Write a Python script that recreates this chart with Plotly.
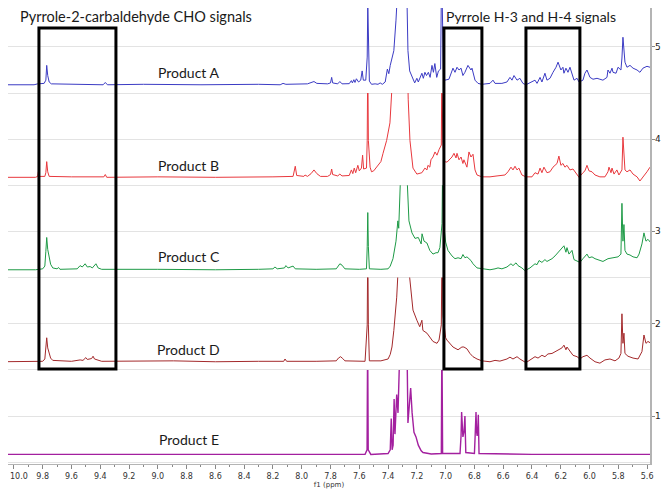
import plotly.graph_objects as go

# ---------------- data ----------------
products = ["Product A", "Product B", "Product C", "Product D", "Product E"]
offsets = [4.59, 3.587, 2.585, 1.588, 0.584]          # stacking offset of each spectrum
colors = ["#3b3bc4", "#e8383d", "#1e9a46", "#a3292b", "#a3209f"]

A_ppm = [10.10, 9.86, 9.835, 9.79, 9.778, 9.772, 9.765, 9.755, 9.74, 9.60, 9.38, 9.365, 9.35, 9.10, 8.70,
         8.30, 8.15, 8.13, 8.11, 7.96, 7.935, 7.915, 7.895, 7.82, 7.80, 7.792, 7.785, 7.75, 7.735, 7.72,
         7.67, 7.655, 7.648, 7.638, 7.63, 7.62, 7.605, 7.59, 7.58, 7.572, 7.555, 7.545, 7.541, 7.537, 7.53,
         7.515, 7.49, 7.47, 7.455, 7.44, 7.42, 7.405, 7.395, 7.385, 7.372, 7.36, 7.345, 7.335, 7.325, 7.30,
         7.28, 7.269, 7.262, 7.25, 7.234, 7.215, 7.20, 7.19, 7.165, 7.155, 7.144, 7.133, 7.12, 7.108, 7.095,
         7.085, 7.075, 7.062, 7.05, 7.035, 7.028, 7.022, 7.015, 7.005,
         6.977, 6.949, 6.935, 6.921, 6.907, 6.893, 6.880, 6.866, 6.845, 6.824, 6.817, 6.796, 6.775, 6.748,
         6.692, 6.671, 6.657, 6.609, 6.574, 6.553, 6.539, 6.525, 6.504, 6.484, 6.463, 6.442, 6.400, 6.379,
         6.365, 6.344, 6.331, 6.310, 6.296, 6.275, 6.254, 6.233, 6.219, 6.199, 6.185, 6.178, 6.164, 6.150,
         6.136, 6.122, 6.108, 6.087, 6.073, 6.046, 6.032, 6.018, 6.011, 5.997, 5.976, 5.948, 5.928, 5.907,
         5.879, 5.872, 5.858, 5.844, 5.837, 5.816, 5.802, 5.782, 5.775, 5.768, 5.754, 5.740, 5.719, 5.698,
         5.670, 5.650, 5.629, 5.601, 5.580, 5.559, 5.538]
A_int = [0.0, 0.0, 0.01, 0.015, 0.05, 0.21, 0.10, 0.03, 0.01, 0.005, 0.0, 0.025, 0.0, 0.005, 0.0,
         0.005, 0.0, 0.015, 0.005, 0.01, 0.02, 0.035, 0.015, 0.01, 0.02, 0.08, 0.02, 0.01, 0.035, 0.01,
         0.012, 0.045, 0.02, 0.055, 0.025, 0.065, 0.03, 0.05, 0.15, 0.05, 0.05, 0.3, 0.87, 0.3, 0.04,
         0.005, 0.01, 0.005, 0.02, 0.005, 0.03, 0.17, 0.12, 0.21, 0.28, 0.37, 0.70, 1.0, 1.6, 2.0,
         1.6, 0.95, 0.37, 0.15, 0.08, 0.02, 0.07, 0.03, 0.125, 0.07, 0.135, 0.10, 0.135, 0.08, 0.21,
         0.135, 0.23, 0.08, 0.15, 0.17, 1.3, 0.4, 0.09, 0.05,
         0.06, 0.18, 0.135, 0.19, 0.16, 0.18, 0.10, 0.135, 0.21, 0.16, 0.18, 0.05, 0.015, 0.005,
         0.015, 0.05, 0.015, 0.015, 0.03, 0.08, 0.05, 0.10, 0.05, 0.07, 0.015, 0.0, 0.03, 0.05,
         0.015, 0.08, 0.03, 0.125, 0.05, 0.07, 0.135, 0.19, 0.245, 0.16, 0.19, 0.125, 0.18, 0.135,
         0.19, 0.125, 0.05, 0.07, 0.03, 0.05, 0.125, 0.16, 0.135, 0.08, 0.06, 0.07, 0.06, 0.05,
         0.08, 0.16, 0.125, 0.18, 0.135, 0.125, 0.19, 0.16, 0.29, 0.515, 0.245, 0.19, 0.21, 0.18,
         0.16, 0.135, 0.18, 0.20, 0.19, 0.17, 0.145]

B_ppm = [10.10, 9.85, 9.835, 9.83, 9.825, 9.785, 9.778, 9.772, 9.765, 9.755, 9.60, 9.42, 9.375, 9.365,
         9.355, 9.00, 8.60, 8.20, 8.06, 8.045, 8.035, 7.985, 7.977, 7.96, 7.935, 7.915, 7.895, 7.87, 7.82,
         7.80, 7.792, 7.785, 7.75, 7.735, 7.72, 7.67, 7.655, 7.645, 7.635, 7.625, 7.61, 7.60, 7.585, 7.577,
         7.57, 7.55, 7.545, 7.541, 7.537, 7.525, 7.515, 7.50, 7.47, 7.45, 7.435, 7.41, 7.387, 7.373, 7.355,
         7.33, 7.30, 7.28, 7.265, 7.26, 7.248, 7.234, 7.227, 7.20, 7.165, 7.144, 7.13, 7.123, 7.11, 7.102,
         7.088, 7.074, 7.06, 7.046, 7.03, 7.026, 7.02, 7.01, 6.99,
         6.956, 6.942, 6.928, 6.921, 6.907, 6.893, 6.880, 6.873, 6.852, 6.838, 6.824, 6.810, 6.796, 6.782,
         6.748, 6.692, 6.643, 6.588, 6.567, 6.546, 6.532, 6.518, 6.504, 6.491, 6.470, 6.442, 6.400, 6.379,
         6.358, 6.344, 6.331, 6.317, 6.296, 6.275, 6.254, 6.226, 6.213, 6.199, 6.185, 6.171, 6.157, 6.136,
         6.115, 6.094, 6.073, 6.046, 6.032, 6.018, 6.004, 5.983, 5.962, 5.928, 5.893, 5.872, 5.865, 5.851,
         5.844, 5.830, 5.810, 5.796, 5.775, 5.768, 5.754, 5.740, 5.719, 5.698, 5.670, 5.650, 5.629, 5.601,
         5.580, 5.559, 5.538]
B_int = [0.0, 0.0, 0.01, 0.06, 0.01, 0.01, 0.05, 0.17, 0.06, 0.01, 0.005, 0.01, 0.005, 0.03,
         0.0, 0.005, 0.0, 0.005, 0.01, 0.12, 0.02, 0.01, 0.025, 0.01, 0.04, 0.08, 0.04, 0.01, 0.01,
         0.03, 0.09, 0.03, 0.015, 0.035, 0.015, 0.02, 0.08, 0.04, 0.10, 0.05, 0.13, 0.07, 0.10, 0.24,
         0.09, 0.10, 0.4, 1.3, 0.4, 0.11, 0.06, 0.07, 0.13, 0.17, 0.26, 0.40, 0.59, 0.92, 1.5,
         2.5, 3.0, 2.5, 1.2, 0.84, 0.40, 0.19, 0.10, 0.035, 0.05, 0.10, 0.08, 0.13, 0.11, 0.19,
         0.22, 0.275, 0.24, 0.30, 0.35, 1.3, 0.4, 0.17, 0.165,
         0.22, 0.26, 0.21, 0.26, 0.19, 0.22, 0.15, 0.19, 0.11, 0.275, 0.22, 0.25, 0.08, 0.025,
         0.005, 0.005, 0.015, 0.025, 0.06, 0.11, 0.08, 0.12, 0.08, 0.10, 0.025, 0.005, 0.005, 0.05,
         0.035, 0.10, 0.05, 0.11, 0.05, 0.06, 0.11, 0.15, 0.23, 0.13, 0.15, 0.11, 0.13, 0.08,
         0.09, 0.05, 0.0, 0.05, 0.07, 0.13, 0.07, 0.06, 0.025, 0.005, 0.005, 0.06, 0.11, 0.05,
         0.10, 0.035, 0.08, 0.025, 0.08, 0.435, 0.08, 0.06, 0.08, 0.035, 0.005, -0.04, 0.0, 0.06,
         0.11, 0.09, 0.08]

C_ppm = [10.10, 9.85, 9.80, 9.785, 9.778, 9.772, 9.765, 9.755, 9.745, 9.73, 9.70, 9.69, 9.68, 9.56, 9.54,
         9.525, 9.505, 9.49, 9.47, 9.455, 9.43, 9.415, 9.39, 9.00, 8.60, 8.30, 8.20, 8.186, 8.17, 8.12,
         8.11, 8.095, 8.06, 8.045, 7.90, 7.76, 7.745, 7.735, 7.72, 7.70, 7.60, 7.55, 7.545, 7.541, 7.537,
         7.53, 7.45, 7.40, 7.385, 7.366, 7.345, 7.332, 7.326, 7.318, 7.30, 7.28, 7.268, 7.255, 7.234,
         7.213, 7.19, 7.17, 7.164, 7.15, 7.13, 7.11, 7.088, 7.067, 7.053, 7.04, 7.025, 7.02, 7.014, 7.0,
         6.984, 6.956, 6.935, 6.914, 6.893, 6.880, 6.866, 6.852, 6.824, 6.810, 6.782, 6.748, 6.692, 6.657,
         6.636, 6.609, 6.574, 6.546, 6.532, 6.511, 6.497, 6.470, 6.449, 6.414, 6.379, 6.365, 6.351, 6.331,
         6.310, 6.296, 6.261, 6.240, 6.219, 6.192, 6.178, 6.164, 6.157, 6.143, 6.122, 6.108, 6.087, 6.067,
         6.046, 6.018, 6.004, 5.983, 5.962, 5.941, 5.907, 5.872, 5.837, 5.802, 5.782, 5.775, 5.768, 5.761,
         5.754, 5.740, 5.719, 5.698, 5.670, 5.656, 5.636, 5.622, 5.608, 5.594, 5.573, 5.559, 5.538]
C_int = [0.0, 0.0, 0.01, 0.04, 0.20, 0.35, 0.22, 0.13, 0.06, 0.02, 0.01, 0.025, 0.005, 0.01, 0.045,
         0.03, 0.065, 0.03, 0.035, 0.02, 0.065, 0.02, 0.005, 0.005, 0.0, 0.005, 0.01, 0.03, 0.01, 0.02,
         0.045, 0.02, 0.04, 0.01, 0.005, 0.01, 0.05, 0.065, 0.05, 0.01, 0.005, 0.01, 0.25, 0.62, 0.25,
         0.01, 0.005, 0.01, 0.04, 0.12, 0.31, 0.53, 0.45, 0.95, 2.5, 2.5, 1.0, 0.53, 0.40,
         0.34, 0.35, 0.28, 0.39, 0.31, 0.29, 0.21, 0.17, 0.185, 0.185, 0.24, 0.5, 1.3, 0.5, 0.3,
         0.21, 0.15, 0.12, 0.13, 0.12, 0.165, 0.13, 0.14, 0.10, 0.065, 0.02, 0.01, 0.0, 0.01,
         0.02, 0.01, 0.03, 0.065, 0.045, 0.075, 0.045, 0.02, -0.01, 0.02, 0.065, 0.055, 0.10, 0.08,
         0.11, 0.09, 0.12, 0.15, 0.185, 0.23, 0.26, 0.19, 0.24, 0.17, 0.21, 0.11, 0.09, 0.08,
         0.12, 0.17, 0.13, 0.14, 0.12, 0.11, 0.09, 0.12, 0.13, 0.14, 0.17, 0.72, 0.31, 0.49,
         0.21, 0.17, 0.16, 0.14, 0.13, 0.17, 0.28, 0.40, 0.31, 0.33, 0.29, 0.22, 0.18]

D_ppm = [10.10, 9.85, 9.80, 9.785, 9.778, 9.772, 9.765, 9.755, 9.745, 9.73, 9.69, 9.60, 9.54, 9.52, 9.50,
         9.49, 9.46, 9.45, 9.44, 9.42, 9.39, 8.89, 8.60, 8.30, 8.125, 8.116, 8.105, 7.90, 7.76, 7.745,
         7.73, 7.715, 7.70, 7.56, 7.545, 7.541, 7.537, 7.53, 7.45, 7.40, 7.385, 7.373, 7.36, 7.34, 7.33,
         7.31, 7.28, 7.262, 7.234, 7.227, 7.20, 7.18, 7.165, 7.158, 7.13, 7.11, 7.088, 7.06, 7.046, 7.03,
         7.025, 7.018, 7.00, 6.991, 6.970, 6.949, 6.914, 6.887, 6.873, 6.852, 6.831, 6.810, 6.782, 6.748,
         6.692, 6.657, 6.623, 6.574, 6.553, 6.532, 6.504, 6.484, 6.442, 6.400, 6.379, 6.358, 6.331, 6.310,
         6.289, 6.261, 6.240, 6.219, 6.192, 6.178, 6.164, 6.157, 6.136, 6.115, 6.087, 6.067, 6.046, 6.018,
         5.997, 5.962, 5.928, 5.893, 5.858, 5.823, 5.796, 5.782, 5.775, 5.768, 5.761, 5.754, 5.733, 5.698,
         5.663, 5.636, 5.622, 5.608, 5.594, 5.573, 5.559, 5.538]
D_int = [0.0, 0.0, 0.005, 0.03, 0.15, 0.26, 0.15, 0.09, 0.04, 0.015, 0.01, 0.005, 0.02, 0.015, 0.045,
         0.025, 0.035, 0.06, 0.03, 0.02, 0.005, 0.01, 0.0, 0.005, 0.005, 0.03, 0.005, 0.005, 0.01, 0.04,
         0.055, 0.035, 0.01, 0.005, 0.4, 1.3, 0.4, 0.01, 0.01, 0.03, 0.08, 0.16, 0.34, 0.70, 1.1,
         2.5, 2.5, 1.1, 0.70, 0.56, 0.45, 0.38, 0.45, 0.34, 0.31, 0.26, 0.22, 0.20, 0.235, 0.4,
         1.3, 0.5, 0.26, 0.235, 0.20, 0.16, 0.13, 0.16, 0.16, 0.14, 0.09, 0.055, 0.03, 0.01,
         0.0, 0.015, 0.007, 0.03, 0.05, 0.03, 0.055, 0.03, -0.01, 0.03, 0.055, 0.04, 0.07, 0.055,
         0.085, 0.09, 0.11, 0.13, 0.15, 0.18, 0.13, 0.16, 0.11, 0.07, 0.055, 0.03, 0.055, 0.07,
         0.04, 0.0, -0.015, 0.02, 0.03, 0.01, 0.04, 0.09, 0.52, 0.20, 0.31, 0.09, 0.06, 0.04,
         0.03, 0.11, 0.29, 0.20, 0.22, 0.20, 0.17, 0.15]

E_ppm = [10.10, 9.50, 8.80, 8.10, 7.56, 7.546, 7.542, 7.538, 7.52, 7.40, 7.385, 7.378, 7.372, 7.365,
         7.358, 7.352, 7.345, 7.340, 7.331, 7.322, 7.312, 7.29, 7.271, 7.262, 7.252, 7.243, 7.233, 7.22,
         7.206, 7.19, 7.17, 7.157, 7.10, 7.03, 7.026, 7.021, 6.90, 6.893, 6.889, 6.884, 6.880, 6.872,
         6.866, 6.860, 6.80, 6.795, 6.789, 6.785, 6.781, 6.777, 6.773, 6.768, 6.40, 6.00, 5.538]
E_int = [0.0, 0.0, 0.0, 0.0, 0.0, 0.05, 1.3, 0.05, 0.0, 0.01, 0.05, 0.39, 0.05, 0.1,
         0.60, 0.22, 0.4, 0.65, 0.45, 0.9, 1.5, 1.3, 1.5, 0.34, 0.5, 0.72, 0.45, 0.24,
         0.19, 0.10, 0.04, 0.02, 0.005, 0.01, 1.3, 0.01, 0.01, 0.2, 0.46, 0.25, 0.19, 0.25,
         0.415, 0.02, 0.01, 0.2, 0.46, 0.25, 0.2, 0.25, 0.43, 0.01, 0.0, 0.0, 0.0]

spectra_ppm = [A_ppm, B_ppm, C_ppm, D_ppm, E_ppm]
spectra_int = [A_int, B_int, C_int, D_int, E_int]

# annotation texts
box_titles = ["Pyrrole-2-carbaldehyde CHO signals", "Pyrrole H-3 and H-4 signals"]
x_ticks = [10.0, 9.8, 9.6, 9.4, 9.2, 9.0, 8.8, 8.6, 8.4, 8.2, 8.0, 7.8, 7.6, 7.4, 7.2, 7.0,
           6.8, 6.6, 6.4, 6.2, 6.0, 5.8, 5.6]
y_ticks = [1, 2, 3, 4, 5]

# ---------------- layout constants ----------------
# (the page body adds an 8 px margin and clips at its width, so the figure is 654 wide)
X_RANGE = [10.041, 5.580]
Y_RANGE = [0.480, 5.422]
band_edges = [Y_RANGE[0], 1.5, 2.5, 3.5, 4.5, Y_RANGE[1]]   # each spectrum clipped to its band
span = Y_RANGE[1] - Y_RANGE[0]
FONT = "Lato"
TICKFONT = dict(family="DejaVu Sans", size=8, color="#333333")

fig = go.Figure()

# dummy trace to carry the main axes (grid + right-side ticks)
fig.add_trace(go.Scatter(x=[X_RANGE[0], X_RANGE[1]], y=[Y_RANGE[0], Y_RANGE[1]], xaxis="x", yaxis="y",
                         mode="lines", line=dict(width=0, color="rgba(0,0,0,0)"),
                         showlegend=False, hoverinfo="skip"))

layout_axes = {}
# band 0 = Product E (bottom) ... band 4 = Product A (top)
for band in range(5):
    k = 4 - band  # spectrum index
    axname = "y%d" % (band + 2)
    lo, hi = band_edges[band], band_edges[band + 1]
    layout_axes["yaxis%d" % (band + 2)] = dict(
        domain=[(lo - Y_RANGE[0]) / span, (hi - Y_RANGE[0]) / span],
        range=[lo, hi], visible=False, anchor="x", fixedrange=True)
    fig.add_trace(go.Scatter(
        x=spectra_ppm[k],
        y=[offsets[k] + v for v in spectra_int[k]],
        mode="lines", xaxis="x", yaxis=axname,
        line=dict(color=colors[k], width=1.4 if k == 4 else 1.0),
        showlegend=False, name=products[k]))

fig.update_layout(**layout_axes)

x_ticktext = ["" if i == 0 else "%.1f" % v for i, v in enumerate(x_ticks)]

fig.update_layout(
    width=654, height=490,
    margin=dict(l=0, r=12, t=0, b=34),
    paper_bgcolor="white", plot_bgcolor="rgba(0,0,0,0)",
    showlegend=False,
    xaxis=dict(range=X_RANGE, anchor="y", tickmode="array", tickvals=x_ticks,
               ticktext=x_ticktext, ticks="outside", ticklen=4,
               tickcolor="#888888", showgrid=False, zeroline=False,
               showline=True, linecolor="#b4b4b4", linewidth=1,
               tickfont=TICKFONT, ticklabeloverflow="allow",
               minor=dict(dtick=0.1, tick0=10.0, ticks="outside", ticklen=2, tickcolor="#888888"),
               title=dict(text="f1 (ppm)", font=dict(family="DejaVu Sans", size=7, color="#333333"),
                          standoff=0)),
    yaxis=dict(type="linear", range=Y_RANGE, side="right", anchor="x", tickmode="array",
               tickvals=y_ticks, showticklabels=False,
               ticks="outside", ticklen=3, tickcolor="#888888",
               showgrid=True, gridcolor="#e3e3e3", zeroline=False,
               showline=True, linecolor="#b4b4b4", linewidth=1.5,
               minor=dict(dtick=0.5, tick0=0, showgrid=True, gridcolor="#e3e3e3", ticks="")),
)

# right-side y tick labels
for v in y_ticks:
    fig.add_annotation(x=1, y=v, xref="paper", yref="y", xanchor="left", yanchor="middle",
                       xshift=3, text=str(v), showarrow=False,
                       font=dict(family="DejaVu Sans", size=9, color="#222222"))

# first x tick label (would be hidden at the page edge by the axis itself)
fig.add_annotation(x=0, y=0, xref="paper", yref="paper", xanchor="left", yanchor="top",
                   yshift=-6, text="%.1f" % x_ticks[0], showarrow=False, font=TICKFONT)

# black boxes around signal regions
box_x = [(9.826, 9.291), (7.012, 6.748), (6.442, 6.067)]
box_y = (1.509, 5.205)
for x0, x1 in box_x:
    fig.add_shape(type="rect", xref="x", yref="y", x0=x0, x1=x1, y0=box_y[0], y1=box_y[1],
                  line=dict(color="black", width=3), fillcolor="rgba(0,0,0,0)", layer="above")

# titles above boxes
title_pos = [(9.155, 5.325), (6.404, 5.325)]
title_size = [14.5, 14]
for txt, (xp, yp), fs in zip(box_titles, title_pos, title_size):
    fig.add_annotation(x=xp, y=yp, xref="x", yref="y", text=txt, showarrow=False,
                       font=dict(family=FONT, size=fs, color="#1a1a1a"))

# product labels
label_x = 8.784
label_y = [4.721, 3.720, 2.726, 1.723, 0.750]
for name, yp in zip(products, label_y):
    fig.add_annotation(x=label_x, y=yp, xref="x", yref="y", text=name, showarrow=False,
                       font=dict(family=FONT, size=14, color="#1a1a1a"))

fig.write_html("out.html")
